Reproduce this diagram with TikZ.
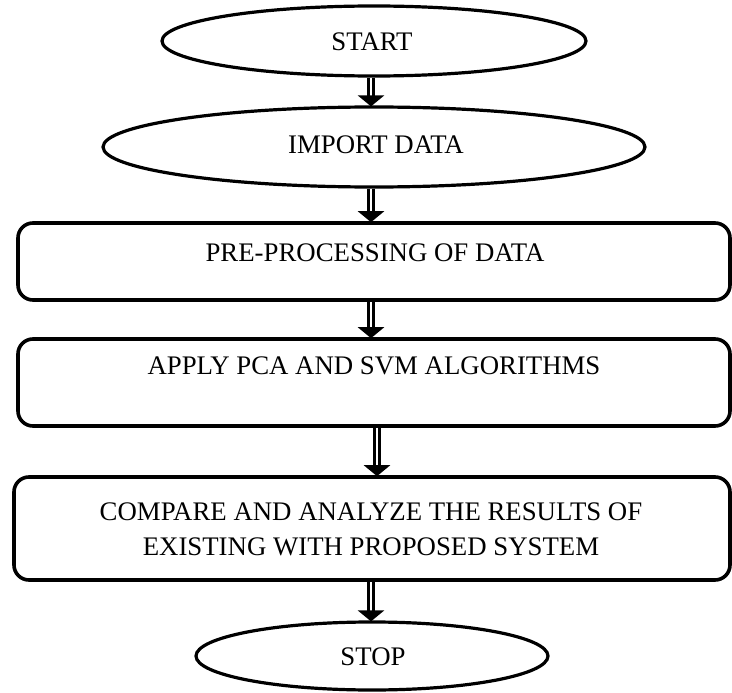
\documentclass[tikz,border=0pt]{standalone}
\usepackage{fontspec}
\setmainfont{Liberation Serif}
\usetikzlibrary{shapes.geometric,arrows.meta}
\tikzset{
  terminal/.style={ellipse, draw, line width=3.2pt, inner sep=0pt},
  procbox/.style={rectangle, draw, line width=3.6pt, rounded corners=15pt, inner sep=0pt},
  caption/.style={anchor=base, font=\fontsize{26.8}{31}\selectfont, inner sep=0pt},
  flow/.style={line width=3.2pt, double distance=2.2pt, double=white,
    -{Triangle[width=26pt,length=11pt]}, shorten >=-1pt},
}
\begin{document}
\begin{tikzpicture}[x=1pt,y=-1pt]
\useasboundingbox (0,0) rectangle (732,693);
% terminals and process boxes
\node[terminal, minimum width=424pt, minimum height=70pt] (start) at (374,41) {};
\node[terminal, minimum width=542pt, minimum height=80pt] (import) at (374,147) {};
\node[procbox, minimum width=712pt, minimum height=77pt] (pre) at (374,261.5) {};
\node[procbox, minimum width=712pt, minimum height=87pt] (apply) at (374,382.5) {};
\node[procbox, minimum width=716pt, minimum height=103pt] (compare) at (372,528.5) {};
\node[terminal, minimum width=352pt, minimum height=68pt] (stop) at (372,656) {};
% box captions
\node[caption] (tstart) at (372,50.5) {START};
\node[caption] (timport) at (376,153.5) {IMPORT DATA};
\node[caption] (tpre) at (375,261.5) {PRE-PROCESSING OF DATA};
\node[caption] (tapply) at (374,374.5) {APPLY PCA AND SVM ALGORITHMS};
\node[caption] (tcmp1) at (371,520.5) {COMPARE AND ANALYZE THE RESULTS OF};
\node[caption] (tcmp2) at (371,555.5) {EXISTING WITH PROPOSED SYSTEM};
\node[caption] (tstop) at (373,665.5) {STOP};
% connectors
\draw[flow] (start.south -| 371,0) -- (import.north -| 371,0);
\draw[flow] (import.south -| 371,0) -- (pre.north -| 371,0);
\draw[flow] (pre.south -| 371,0) -- (apply.north -| 371,0);
\draw[flow] (apply.south -| 377,0) -- (compare.north -| 377,0);
\draw[flow] (compare.south -| 371,0) -- (stop.north -| 371,0);
\end{tikzpicture}
\end{document}
